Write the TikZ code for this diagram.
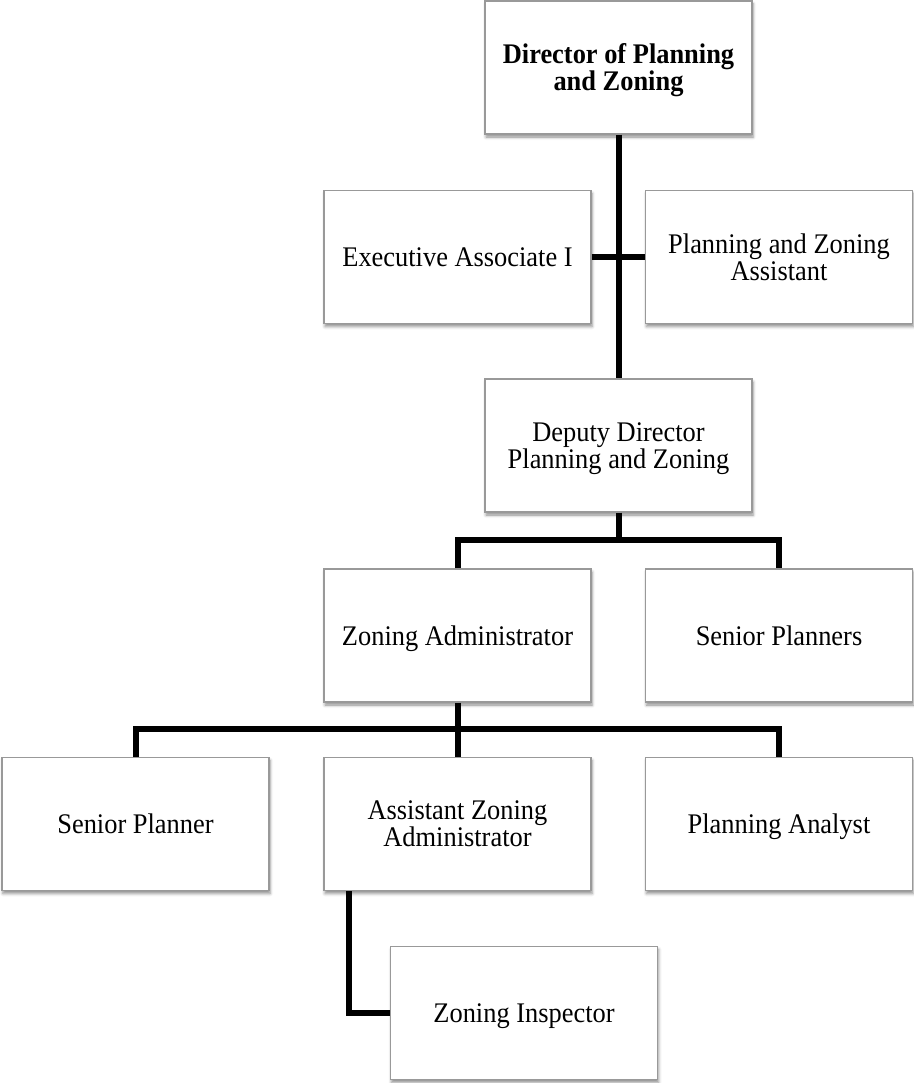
\documentclass[tikz,border=0pt]{standalone}
\usepackage{fontspec}
\setmainfont{Liberation Serif}[FakeStretch=0.93]
\usetikzlibrary{calc,shadows.blur}
\begin{document}
\begin{tikzpicture}[x=1pt,y=-1pt,
  post/.style={draw=black!40, line width=1.1pt, fill=white,
    minimum width=267pt, minimum height=133pt, inner sep=0pt, align=center,
    text depth=0pt,
    font=\fontsize{28.4}{27}\selectfont,
    blur shadow={shadow xshift=1pt, shadow yshift=-3pt,
      shadow blur radius=3pt, shadow opacity=45}},
  headpost/.style={post, font=\fontsize{28.4}{27}\selectfont\bfseries},
  link/.style={line width=6pt, draw=black}]
\useasboundingbox (0,0) rectangle (913,1083);

% positions
\node[headpost] (dir) at (618.5,67.5) {Director of Planning\\and Zoning};
\node[post] (exec) at (457.5,257) {Executive Associate I};
\node[post] (pza)  at (779,257) {Planning and Zoning\\Assistant};
\node[post] (dep)  at (618.5,445.5) {Deputy Director\\Planning and Zoning};
\node[post] (za)   at (457.5,635.5) {Zoning Administrator};
\node[post] (sps)  at (779,635.5) {Senior Planners};
\node[post] (sp)   at (135.5,824) {Senior Planner};
\node[post] (aza)  at (457.5,824) {Assistant Zoning\\Administrator};
\node[post] (pa)   at (779,824) {Planning Analyst};
\node[post] (zi)   at (524,1013) {Zoning Inspector};

% junction points of the branch lines
\coordinate (j1) at (618.5,539.5);
\coordinate (j2) at (457.5,728.5);
\coordinate (azaout) at ($(aza.south west)+(26,0)$);

% reporting lines
\draw[link] (dir.south) -- (dep.north);
\draw[link] (exec.east) -- (pza.west);
\draw[link] (dep.south) -- (j1);
\draw[link] (za.north) |- (j1) -| (sps.north);
\draw[link] (za.south) -- (aza.north);
\draw[link] (sp.north) |- (j2) -| (pa.north);
\draw[link] (azaout) |- (zi.west);
\end{tikzpicture}
\end{document}
